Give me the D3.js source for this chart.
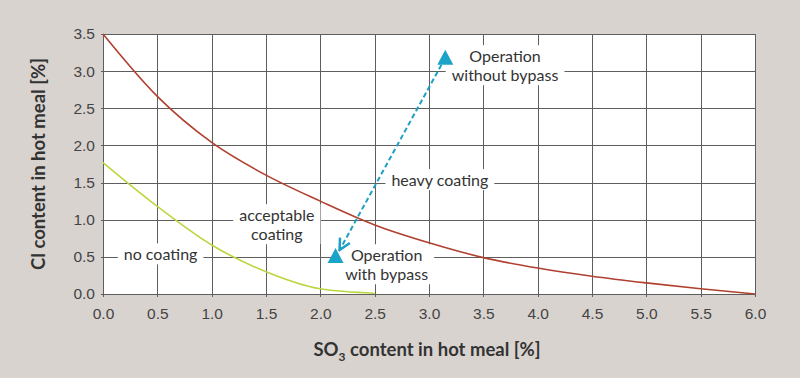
<!doctype html>
<meta charset="utf-8">
<title>Coating tendency: Cl vs SO3 in hot meal</title>
<script src="https://d3js.org/d3.v7.min.js"></script>
<style>
body { margin: 0; background: #d9d3d0; }
svg { display: block; font-family: Lato, "Open Sans", sans-serif; }
.tick text { font-size: 15.5px; fill: #444; }
.grid line { stroke: #5e5e5e; stroke-width: 1; shape-rendering: crispEdges; }
.grid path { display: none; }
.label { font-size: 16px; fill: #333; }
.title { font-size: 18.5px; font-weight: bold; fill: #333; }
</style>
<svg id="chart" width="800" height="378"></svg>
<script>
// upper limit: heavy coating above this curve
var heavySO3 = [0, 0.5, 1.0, 1.5, 2.0, 2.5, 3.0, 3.5, 4.0, 4.5, 5.0, 5.5, 6.0];
var heavyCl  = [3.5, 2.66, 2.04, 1.60, 1.25, 0.93, 0.69, 0.49, 0.35, 0.24, 0.15, 0.07, 0.0];
// lower limit: no coating below this curve
var noneSO3 = [0, 0.5, 1.0, 1.5, 2.0, 2.5];
var noneCl  = [1.77, 1.18, 0.66, 0.30, 0.07, 0.01];
// operating points
var withoutBypass = [3.15, 3.18];
var withBypass = [2.14, 0.51];

var xTicks = d3.range(0, 6.01, 0.5);
var yTicks = d3.range(0, 3.51, 0.5);

var labels = [
  {lines: ["Operation", "without bypass"], at: [3.70, 3.06]},
  {lines: ["heavy coating"], at: [3.10, 1.52]},
  {lines: ["acceptable", "coating"], at: [1.60, 0.92]},
  {lines: ["no coating"], at: [0.53, 0.52]},
  {lines: ["Operation", "with bypass"], at: [2.61, 0.38]}
];

var svg = d3.select("#chart");
var pL = 103, pR = 755, pT = 34, pB = 294;

var x = d3.scaleLinear().domain([0, 6]).range([pL, pR]);
var y = d3.scaleLinear().domain([0, 3.5]).range([pB, pT]);

svg.append("rect")
  .attr("x", pL).attr("y", pT)
  .attr("width", pR - pL).attr("height", pB - pT)
  .attr("fill", "#fff");

var xAxis = d3.axisBottom(x).tickValues(xTicks).tickFormat(d3.format(".1f"))
  .tickSizeInner(-(pB - pT)).tickSizeOuter(0).tickPadding(14);
var yAxis = d3.axisLeft(y).tickValues(yTicks).tickFormat(d3.format(".1f"))
  .tickSizeInner(-(pR - pL)).tickSizeOuter(0).tickPadding(8);

svg.append("g").attr("class", "grid")
  .attr("transform", "translate(0," + pB + ")")
  .call(xAxis)
  .call(function(g) { g.selectAll("line").attr("y2", -(pB - pT)).attr("y1", 3); });

svg.append("g").attr("class", "grid")
  .attr("transform", "translate(" + pL + ",0)")
  .call(yAxis)
  .call(function(g) { g.selectAll("line").attr("x1", -2); });

// label boxes knock out the grid
var labelG = svg.append("g");
labels.forEach(function(d) {
  var g = labelG.append("g");
  var t = g.append("text").attr("class", "label").attr("text-anchor", "middle");
  var n = d.lines.length;
  d.lines.forEach(function(s, i) {
    t.append("tspan")
      .attr("x", x(d.at[0]))
      .attr("y", y(d.at[1]) + (i - (n - 1) / 2) * 19 + 5)
      .text(s);
  });
  var b = t.node().getBBox();
  g.insert("rect", "text")
    .attr("x", b.x - 6).attr("y", b.y - 1)
    .attr("width", b.width + 12).attr("height", b.height + 2)
    .attr("fill", "#fff");
});

var line = d3.line()
  .curve(d3.curveMonotoneX)
  .x(function(d) { return x(d[0]); })
  .y(function(d) { return y(d[1]); });

svg.append("path")
  .datum(d3.zip(noneSO3, noneCl))
  .attr("d", line)
  .attr("fill", "none")
  .attr("stroke", "#bcd641")
  .attr("stroke-width", 1.6);

svg.append("path")
  .datum(d3.zip(heavySO3, heavyCl))
  .attr("d", line)
  .attr("fill", "none")
  .attr("stroke", "#b0402f")
  .attr("stroke-width", 1.6);

// dashed double arrow between operating points
svg.append("defs").append("marker")
  .attr("id", "head")
  .attr("viewBox", "0 0 10 10")
  .attr("refX", 9).attr("refY", 5)
  .attr("markerWidth", 7).attr("markerHeight", 7)
  .attr("orient", "auto-start-reverse")
  .append("path")
  .attr("d", "M1,1 L9,5 L1,9")
  .attr("fill", "none")
  .attr("stroke", "#1e9fc4")
  .attr("stroke-width", 1.8);

svg.append("line")
  .attr("x1", x(withoutBypass[0])).attr("y1", y(withoutBypass[1]))
  .attr("x2", x(withBypass[0]) + 4).attr("y2", y(withBypass[1]) - 6)
  .attr("stroke", "#1e9fc4")
  .attr("stroke-width", 2)
  .attr("stroke-dasharray", "5,3")
  .attr("marker-end", "url(#head)");

svg.selectAll(".pt")
  .data([withoutBypass, withBypass])
  .join("path")
  .attr("class", "pt")
  .attr("transform", function(d) { return "translate(" + x(d[0]) + "," + y(d[1]) + ")"; })
  .attr("d", "M0,-8 L8,7 L-8,7 Z")
  .attr("fill", "#1ba3c8");

svg.append("text")
  .attr("class", "title")
  .attr("transform", "translate(45," + ((pT + pB) / 2) + ") rotate(-90)")
  .attr("text-anchor", "middle")
  .text("Cl content in hot meal [%]");

var xt = svg.append("text")
  .attr("class", "title")
  .attr("x", 427)
  .attr("y", 356)
  .attr("text-anchor", "middle");
xt.append("tspan").text("SO");
xt.append("tspan").attr("dy", 5).style("font-size", "12px").text("3");
xt.append("tspan").attr("dy", -5).text(" content in hot meal [%]");
</script>
